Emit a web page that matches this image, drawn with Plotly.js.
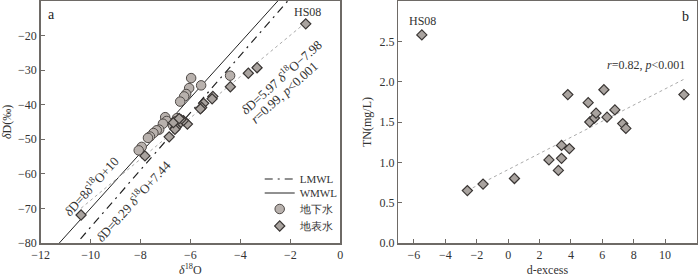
<!DOCTYPE html>
<html><head><meta charset="utf-8">
<script src="https://cdn.plot.ly/plotly-3.0.1.min.js"></script>
<style>body{margin:0;background:#fff}#c{width:700px;height:277px}</style>
</head><body><div id="c"></div>
<script>
// Panel a: groundwater (地下水)
const gwO18 = [-5.97,-5.57,-4.41,-6.05,-6.17,-6.25,-6.41,-7.01,-6.95,-7.10,-7.25,-7.35,-7.48,-7.62,-7.70,-7.95,-8.07,-6.54,-6.60,-6.70];
const gwD   = [-32.3,-34.4,-31.6,-35.2,-36.9,-37.6,-39.1,-43.6,-44.7,-45.5,-47.2,-47.4,-48.2,-49.2,-49.6,-52.2,-53.2,-43.9,-44.8,-46.0];
// Panel a: surface water (地表水)
const swO18 = [-1.38,-3.33,-3.68,-4.40,-5.10,-5.13,-5.47,-5.55,-5.60,-6.12,-6.28,-6.38,-6.50,-6.58,-6.62,-6.68,-6.85,-6.45,-7.82,-10.38];
const swD   = [-16.6,-29.3,-30.9,-34.8,-37.6,-38.3,-39.6,-40.8,-41.2,-45.6,-44.6,-44.3,-45.9,-46.6,-47.1,-45.2,-49.3,-44.0,-54.8,-71.9];
// Lines
const wmwl = {slope: 8, intercept: 10, x: [-11.25, -2.5]};
const lmwl = {slope: 8.29, intercept: 7.44, x: [-10.4, -2.1]};
const fitA = {slope: 5.97, intercept: -7.98, x: [-10.38, -1.38]};
// Panel b: d-excess vs TN
const dex = [-5.5,-2.6,-1.6,0.4,2.6,3.2,3.4,3.4,3.8,3.9,5.1,5.2,5.5,5.6,6.1,6.3,6.8,7.3,7.5,11.2];
const tn  = [2.58,0.65,0.73,0.80,1.03,0.90,1.05,1.21,1.84,1.17,1.74,1.50,1.55,1.61,1.90,1.56,1.65,1.48,1.42,1.84];
const fitB = {slope: 0.1, intercept: 0.91, x: [-2.6, 11.2]};

const line = (o) => o.x.map(v => o.slope * v + o.intercept);
const F = '"Liberation Serif","Times New Roman",serif';
const axc = '#6e6a66';
const circ = {symbol:'circle', size:9.5, color:'#b8b1ad', line:{color:'#4e4946', width:1}};
const diam = {symbol:'diamond', size:7.8, color:'#a9a39f', line:{color:'#3a3634', width:1.2}};

const traces = [
  {x: lmwl.x, y: line(lmwl), mode:'lines', name:'LMWL', legend:'legend', line:{color:'#222', width:1.2, dash:'8px,5px,2px,5px'}, xaxis:'x', yaxis:'y'},
  {x: wmwl.x, y: line(wmwl), mode:'lines', name:'WMWL', legend:'legend2', line:{color:'#222', width:1}, xaxis:'x', yaxis:'y'},
  {x: fitA.x, y: line(fitA), mode:'lines', showlegend:false, line:{color:'#aaa', width:1, dash:'dot'}, xaxis:'x', yaxis:'y'},
  {x: gwO18, y: gwD, mode:'markers', name:'地下水', legend:'legend3', marker:circ, xaxis:'x', yaxis:'y'},
  {x: swO18, y: swD, mode:'markers', name:'地表水', legend:'legend4', marker:diam, xaxis:'x', yaxis:'y'},
  {x: fitB.x, y: line(fitB), mode:'lines', showlegend:false, line:{color:'#aaa', width:1, dash:'dot'}, xaxis:'x2', yaxis:'y2'},
  {x: dex, y: tn, mode:'markers', showlegend:false, marker:diam, xaxis:'x2', yaxis:'y2'}
];

const axBase = {showline:true, mirror:true, linecolor:axc, linewidth:1.5, ticks:'inside', ticklen:4, tickcolor:axc,
  showgrid:false, zeroline:false, tickfont:{family:F, size:12, color:'#333'}};

const leg = (y) => ({x:0.371, xanchor:'left', y:y, yanchor:'middle', bgcolor:'rgba(0,0,0,0)',
    font:{family:F, size:11, color:'#333'}, itemwidth:30});
const annF = {family:F, size:13, color:'#333'};

const layout = {
  width:700, height:277, margin:{l:0, r:0, t:1, b:34},
  paper_bgcolor:'#fff', plot_bgcolor:'#fff', font:{family:F, color:'#333'},
  xaxis: Object.assign({}, axBase, {domain:[0.058,0.486], range:[-12,0], dtick:2, tick0:0,
    title:{text:'<i>δ</i><sup>18</sup>O', font:{family:F, size:12}, standoff:5}, anchor:'y'}),
  yaxis: Object.assign({}, axBase, {domain:[0,1], range:[-80,-10], dtick:10,
    title:{text:'<i>δ</i>D(‰)', font:{family:F, size:12}, standoff:4}, anchor:'x'}),
  xaxis2: Object.assign({}, axBase, {domain:[0.569,0.995], range:[-7,12], dtick:2, tick0:0,
    title:{text:'d-excess', font:{family:F, size:12}, standoff:6}, anchor:'y2'}),
  yaxis2: Object.assign({}, axBase, {domain:[0,1], range:[0,3], dtick:0.5, tickformat:'.1f',
    title:{text:'TN(mg/L)', font:{family:F, size:12}, standoff:5}, anchor:'x2'}),
  legend: leg(0.2645), legend2: leg(0.2066), legend3: leg(0.1405), legend4: leg(0.0702),
  showlegend:true,
  annotations:[
    {xref:'x', yref:'y', x:-11.55, y:-14, text:'a', showarrow:false, font:{family:F, size:14, color:'#222'}},
    {xref:'x', yref:'y', x:-1.3, y:-13.2, text:'HS08', showarrow:false, font:{family:F, size:12, color:'#333'}},
    {xref:'x', yref:'y', x:-10.0, y:-63.6, text:'<i>δ</i>D=8<i>δ</i><sup>18</sup>O+10', textangle:-48, showarrow:false, font:annF},
    {xref:'x', yref:'y', x:-8.28, y:-67.7, text:'<i>δ</i>D=8.29<i> δ</i><sup>18</sup>O+7.44', textangle:-48, showarrow:false, font:annF},
    {xref:'x', yref:'y', x:-2.40, y:-31.9, text:'<i>δ</i>D=5.97<i> δ</i><sup>18</sup>O−7.98', textangle:-42, showarrow:false, font:annF},
    {xref:'x', yref:'y', x:-2.24, y:-36.5, text:'<i>r</i>=0.99, <i>p</i><0.001', textangle:-42, showarrow:false, font:annF},
    {xref:'x2', yref:'y2', x:11.27, y:2.81, text:'b', showarrow:false, font:{family:F, size:14, color:'#222'}},
    {xref:'x2', yref:'y2', x:-5.44, y:2.75, text:'HS08', showarrow:false, font:{family:F, size:12, color:'#333'}},
    {xref:'x2', yref:'y2', x:11.4, xanchor:'right', y:2.21, text:'<i>r</i>=0.82, <i>p</i><0.001', showarrow:false, font:{family:F, size:12, color:'#333'}}
  ]
};
Plotly.newPlot('c', traces, layout, {staticPlot:true, displayModeBar:false});
</script></body></html>
